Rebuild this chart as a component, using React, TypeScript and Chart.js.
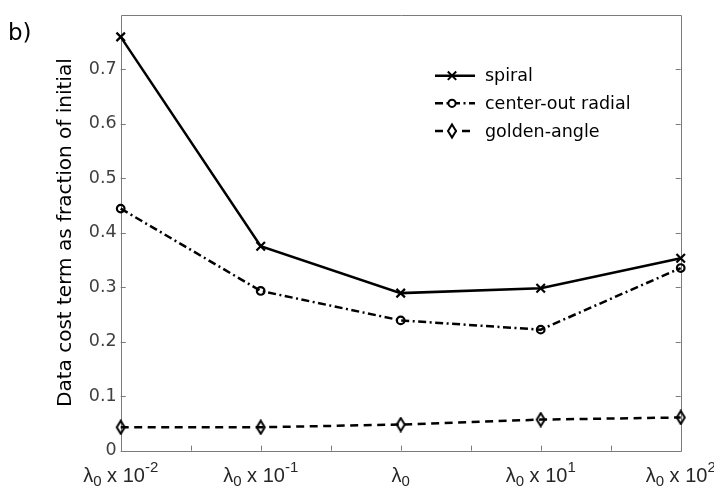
import React, { useEffect, useRef } from 'react';
import { Chart, registerables } from 'chart.js';

Chart.register(...registerables);

// ---- data ----
const categories = ['λ₀ x 10⁻²', 'λ₀ x 10⁻¹', 'λ₀', 'λ₀ x 10¹', 'λ₀ x 10²'];
const labelBase = 'λ';
const labelSub = '0';
const labelMid = ' x 10';
const exponents = ['-2', '-1', '', '1', '2'];
const seriesNames = ['spiral', 'center-out radial', 'golden-angle'];
const spiral = [0.759, 0.375, 0.289, 0.298, 0.353];
const radial = [0.444, 0.293, 0.239, 0.222, 0.335];
const golden = [0.043, 0.043, 0.048, 0.057, 0.061];
const yTickValues = [0, 0.1, 0.2, 0.3, 0.4, 0.5, 0.6, 0.7];
const yMin = 0;
const yMax = 0.8;
const yTitle = 'Data cost term as fraction of initial';
const panelLabel = 'b)';

function makeDiamond(): HTMLCanvasElement {
  const c = document.createElement('canvas');
  c.width = 12;
  c.height = 16;
  const ctx = c.getContext('2d')!;
  ctx.lineWidth = 2;
  ctx.strokeStyle = '#000';
  ctx.beginPath();
  ctx.moveTo(6, 1.5);
  ctx.lineTo(10, 8);
  ctx.lineTo(6, 14.5);
  ctx.lineTo(2, 8);
  ctx.closePath();
  ctx.stroke();
  return c;
}

const AXIS_COLOR = '#7a7a7a';

function drawLegendMarker(ctx: CanvasRenderingContext2D, kind: number, x: number, y: number) {
  ctx.save();
  ctx.strokeStyle = '#000';
  ctx.fillStyle = '#fff';
  ctx.lineWidth = 2;
  ctx.beginPath();
  if (kind === 0) {
    const d = 4.2;
    ctx.moveTo(x - d, y - d);
    ctx.lineTo(x + d, y + d);
    ctx.moveTo(x + d, y - d);
    ctx.lineTo(x - d, y + d);
    ctx.stroke();
  } else if (kind === 1) {
    ctx.arc(x, y, 3.6, 0, Math.PI * 2);
    ctx.fill();
    ctx.stroke();
  } else {
    ctx.moveTo(x, y - 6.5);
    ctx.lineTo(x + 4, y);
    ctx.lineTo(x, y + 6.5);
    ctx.lineTo(x - 4, y);
    ctx.closePath();
    ctx.fill();
    ctx.stroke();
  }
  ctx.restore();
}

const axesPlugin = {
  id: 'matlabAxes',
  beforeDatasetsDraw(chart: any) {
    const { ctx, chartArea } = chart;
    const { left, right, top, bottom } = chartArea;
    const ys = chart.scales.y;
    const xs = chart.scales.x;
    ctx.save();
    ctx.strokeStyle = AXIS_COLOR;
    ctx.lineWidth = 1;
    ctx.beginPath();
    ctx.rect(Math.round(left) + 0.5, Math.round(top) + 0.5, Math.round(right - left), Math.round(bottom - top));
    ctx.stroke();
    const tl = 5;
    ctx.beginPath();
    yTickValues.forEach((v) => {
      const y = Math.round(ys.getPixelForValue(v)) + 0.5;
      ctx.moveTo(left, y);
      ctx.lineTo(left + tl, y);
      ctx.moveTo(right, y);
      ctx.lineTo(right - tl, y);
    });
    for (let i = 0; i < categories.length; i++) {
      const positions = [i];
      if (i < categories.length - 1) positions.push(i + 0.5);
      positions.forEach((p) => {
        const x0 = xs.getPixelForValue(Math.floor(p));
        const x1 = xs.getPixelForValue(Math.min(Math.ceil(p), categories.length - 1));
        const x = Math.round((x0 + x1) / 2) + 0.5;
        ctx.moveTo(x, bottom);
        ctx.lineTo(x, bottom - tl);
      });
    }
    ctx.stroke();
    ctx.restore();
  },
  afterDraw(chart: any) {
    const { ctx } = chart;
    const xs = chart.scales.x;
    ctx.save();
    // x tick labels with subscript / superscript
    const mainFont = '20px "Liberation Sans", Arial, sans-serif';
    const smallFont = '15px "Liberation Sans", Arial, sans-serif';
    const baseY = 482;
    ctx.fillStyle = '#262626';
    ctx.textBaseline = 'alphabetic';
    ctx.textAlign = 'left';
    categories.forEach((_, i) => {
      const exp = exponents[i];
      ctx.font = mainFont;
      const wBase = ctx.measureText(labelBase).width;
      const wMid = exp ? ctx.measureText(labelMid).width : 0;
      ctx.font = smallFont;
      const wSub = ctx.measureText(labelSub).width;
      const wExp = exp ? ctx.measureText(exp).width : 0;
      const total = wBase + wSub + wMid + wExp;
      let x = xs.getPixelForValue(i) - total / 2;
      ctx.font = mainFont;
      ctx.fillText(labelBase, x, baseY);
      x += wBase;
      ctx.font = smallFont;
      ctx.fillText(labelSub, x, baseY + 4);
      x += wSub;
      if (exp) {
        ctx.font = mainFont;
        ctx.fillText(labelMid, x, baseY);
        x += wMid;
        ctx.font = smallFont;
        ctx.fillText(exp, x, baseY - 10);
      }
    });

    // legend
    const rows = [75.7, 103.3, 131];
    const lx0 = 435;
    const lx1 = 475;
    const lmid = 452;
    chart.data.datasets.forEach((ds: any, i: number) => {
      const y = rows[i];
      ctx.save();
      ctx.strokeStyle = '#000';
      ctx.lineWidth = ds.borderWidth;
      ctx.setLineDash(ds.borderDash || []);
      ctx.beginPath();
      ctx.moveTo(lx0, y);
      ctx.lineTo(lx1, y);
      ctx.stroke();
      ctx.setLineDash([]);
      ctx.restore();
      drawLegendMarker(ctx, i, lmid, y);
      ctx.fillStyle = '#000';
      ctx.font = '17.5px "DejaVu Sans", sans-serif';
      ctx.textBaseline = 'middle';
      ctx.textAlign = 'left';
      ctx.fillText(seriesNames[i], 485, y + 1);
    });

    // panel label
    ctx.fillStyle = '#000';
    ctx.font = '23px "DejaVu Sans", sans-serif';
    ctx.textBaseline = 'alphabetic';
    ctx.textAlign = 'left';
    ctx.fillText(panelLabel, 8, 40);
    ctx.restore();
  },
};

export default function App() {
  const ref = useRef<HTMLCanvasElement | null>(null);
  useEffect(() => {
    if (!ref.current) return;
    const diamond = makeDiamond();
    const chart = new Chart(ref.current, {
      type: 'line',
      data: {
        labels: categories,
        datasets: [
          {
            label: seriesNames[0],
            data: spiral,
            borderColor: '#000',
            borderWidth: 2.5,
            pointStyle: 'crossRot',
            pointRadius: 6,
            pointBorderWidth: 2.2,
            pointBorderColor: '#000',
            pointBackgroundColor: '#000',
            clip: false,
            tension: 0,
          } as any,
          {
            label: seriesNames[1],
            data: radial,
            borderColor: '#000',
            borderWidth: 2.5,
            borderDash: [8, 3.5, 2, 3.5],
            pointStyle: 'circle',
            pointRadius: 3.8,
            pointBorderWidth: 2.2,
            pointBorderColor: '#000',
            pointBackgroundColor: 'rgba(255,255,255,0)',
            clip: false,
            tension: 0,
          } as any,
          {
            label: seriesNames[2],
            data: golden,
            borderColor: '#000',
            borderWidth: 2.5,
            borderDash: [8, 5.5],
            pointStyle: diamond,
            pointRadius: 5,
            pointBorderWidth: 2,
            pointBorderColor: '#000',
            pointBackgroundColor: 'rgba(255,255,255,0)',
            clip: false,
            tension: 0,
          } as any,
        ],
      },
      options: {
        animation: false,
        responsive: false,
        maintainAspectRatio: false,
        layout: { padding: { left: 0, top: 9, right: 33.3, bottom: 0 } },
        plugins: {
          legend: { display: false },
          tooltip: { enabled: false },
        },
        scales: {
          x: {
            type: 'category',
            offset: false,
            grid: { display: false, drawTicks: false },
            border: { display: false },
            ticks: { display: false },
            afterFit: (s: any) => {
              s.height = 40.3;
            },
          },
          y: {
            min: yMin,
            max: yMax,
            afterBuildTicks: (s: any) => {
              s.ticks = yTickValues.map((v) => ({ value: v }));
            },
            afterFit: (s: any) => {
              s.width = 120.7;
            },
            grid: { display: false, drawTicks: false },
            border: { display: false },
            ticks: {
              font: { family: '"DejaVu Sans"', size: 17.5 },
              color: '#404040',
              padding: 4,
              callback: (v: any) => String(Math.round(Number(v) * 10) / 10),
            },
            title: {
              display: true,
              text: yTitle,
              color: '#000',
              font: { family: '"DejaVu Sans"', size: 20 },
              padding: { top: 54, bottom: 0 },
            },
          },
        },
      } as any,
      plugins: [axesPlugin],
    });
    return () => chart.destroy();
  }, []);
  return (
    <div style={{ position: 'fixed', left: 0, top: 0, width: 714, height: 491, background: '#fff' }}>
      <canvas ref={ref} width={714} height={491} style={{ display: 'block', width: 714, height: 491 }} />
    </div>
  );
}
